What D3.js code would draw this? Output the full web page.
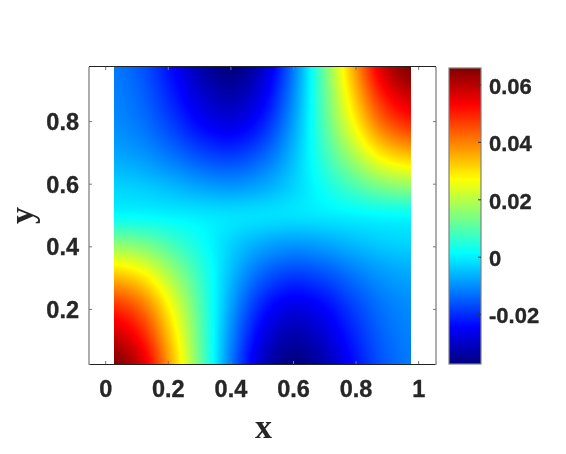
<!DOCTYPE html>
<html>
<head>
<title>Field on the unit square</title>
<script src="https://d3js.org/d3.v7.min.js"></script>
<style>
  html, body { margin: 0; padding: 0; background: #fff; }
  #wrap { position: relative; width: 566px; height: 454px; overflow: hidden; }
  canvas, svg { position: absolute; left: 0; top: 0; }
  .tick-label { font-family: "Liberation Sans", Helvetica, Arial, sans-serif; font-weight: bold; fill: #262626; stroke: #262626; stroke-width: 0.35px; }
  .axis-title { font-family: "Liberation Serif", "Times New Roman", serif; font-weight: bold; fill: #262626; font-size: 34px; }
</style>
</head>
<body>
<div id="wrap">
  <canvas id="heat" width="566" height="454"></canvas>
  <svg id="chart" width="566" height="454"></svg>
</div>
<script>
// values
var xGrid = [0.025, 0.12, 0.215, 0.31, 0.405, 0.5, 0.595, 0.69, 0.785, 0.88, 0.975];
var yGrid = [0.025, 0.12, 0.215, 0.31, 0.405, 0.5, 0.595, 0.69, 0.785, 0.88, 0.975];

// one row per yGrid entry, in units of 0.001
var row0  = [66, 56, 34, 10, -13, -30, -37, -33, -24, -16, -12];
var row1  = [58.2, 49.4, 30.2, 9.1, -11.1, -26.1, -32.4, -29.1, -21.5, -14.6, -11.2];
var row2  = [47.8, 40.6, 25, 7.9, -8.6, -21, -26.4, -24, -18, -12.6, -10];
var row3  = [33.2, 28.3, 17.5, 5.7, -5.8, -14.4, -18.2, -16.7, -12.7, -9.1, -7.3];
var row4  = [16.5, 14, 8.5, 2.5, -3.3, -7.5, -9.3, -8.3, -6, -4, -3];
var row5  = [1.6, 1.2, 0.3, -0.7, -1.5, -1.7, -1.5, -0.7, 0.3, 1.2, 1.6];
var row6  = [-3, -4, -6, -8.3, -9.3, -7.5, -3.3, 2.5, 8.5, 14, 16.5];
var row7  = [-7.3, -9.1, -12.7, -16.7, -18.2, -14.4, -5.8, 5.7, 17.5, 28.3, 33.2];
var row8  = [-10, -12.6, -18, -24, -26.4, -21, -8.6, 7.9, 25, 40.6, 47.8];
var row9  = [-11.2, -14.6, -21.5, -29.1, -32.4, -26.1, -11.1, 9.1, 30.2, 49.4, 58.2];
var row10 = [-12, -16, -24, -33, -37, -30, -13, 10, 34, 56, 66];
var rows = [row0, row1, row2, row3, row4, row5, row6, row7, row8, row9, row10];

var xTicks = [0, 0.2, 0.4, 0.6, 0.8, 1];
var yTicks = [0.2, 0.4, 0.6, 0.8];
var barTicks = [-0.02, 0, 0.02, 0.04, 0.06];
var colorMin = -0.0372;
var colorMax = 0.0659;
var jetStops = ["#000080", "#0000ff", "#00ffff", "#ffff00", "#ff0000", "#800000"];
var jetAt = [0, 0.125, 0.375, 0.625, 0.875, 1];

var box = { left: 89, right: 436, top: 67, bottom: 364 };
var bar = { left: 449, right: 481, top: 68, bottom: 364 };

var x = d3.scaleLinear().domain([0, 1]).range([105.7, 418.7]);
var y = d3.scaleLinear().domain([0, 1]).range([372, 59]);
var c = d3.scaleLinear()
  .domain(jetAt.map(function(t) { return colorMin + t * (colorMax - colorMin); }))
  .range(jetStops)
  .interpolate(d3.interpolateRgb)
  .clamp(true);
var barY = d3.scaleLinear().domain([colorMin, colorMax]).range([bar.bottom, bar.top]);

// smooth shading between the read values
function catmull(p0, p1, p2, p3, t) {
  return 0.5 * (2 * p1 + (p2 - p0) * t + (2 * p0 - 5 * p1 + 4 * p2 - p3) * t * t + (3 * p1 - p0 - 3 * p2 + p3) * t * t * t);
}
function pick(a, i) { return a[Math.max(0, Math.min(a.length - 1, i))]; }
function sample(gx, gy) {
  var ix = Math.max(0, Math.min(xGrid.length - 2, d3.bisectRight(xGrid, gx) - 1));
  var iy = Math.max(0, Math.min(yGrid.length - 2, d3.bisectRight(yGrid, gy) - 1));
  var tx = (gx - xGrid[ix]) / (xGrid[ix + 1] - xGrid[ix]);
  var ty = (gy - yGrid[iy]) / (yGrid[iy + 1] - yGrid[iy]);
  var col = [-1, 0, 1, 2].map(function(d) {
    var r = pick(rows, iy + d);
    return catmull(pick(r, ix - 1), pick(r, ix), pick(r, ix + 1), pick(r, ix + 2), tx);
  });
  return catmull(col[0], col[1], col[2], col[3], ty) / 1000;
}

var ctx = document.getElementById("heat").getContext("2d");
var px0 = Math.round(x(xGrid[0])), px1 = Math.round(x(xGrid[xGrid.length - 1]));
var py0 = Math.round(y(yGrid[yGrid.length - 1])), py1 = Math.round(y(yGrid[0]));
var image = ctx.createImageData(px1 - px0, py1 - py0);
for (var j = 0; j < py1 - py0; j++) {
  for (var i = 0; i < px1 - px0; i++) {
    var col = d3.rgb(c(sample(x.invert(px0 + i + 0.5), y.invert(py0 + j + 0.5))));
    var k = 4 * (j * (px1 - px0) + i);
    image.data[k] = col.r; image.data[k + 1] = col.g; image.data[k + 2] = col.b; image.data[k + 3] = 255;
  }
}
ctx.putImageData(image, px0, py0);

var svg = d3.select("#chart");

// colorbar
var defs = svg.append("defs");
var grad = defs.append("linearGradient").attr("id", "jet")
  .attr("x1", 0).attr("y1", 1).attr("x2", 0).attr("y2", 0);
jetAt.forEach(function(t, i) {
  grad.append("stop").attr("offset", t).attr("stop-color", jetStops[i]);
});
svg.append("rect")
  .attr("x", bar.left).attr("y", bar.top)
  .attr("width", bar.right - bar.left).attr("height", bar.bottom - bar.top)
  .attr("fill", "url(#jet)")
  .attr("stroke", "#808080").attr("stroke-width", 1.2);

var barG = svg.append("g");
barG.selectAll("line").data(barTicks).enter().append("line")
  .attr("x1", bar.right - 3).attr("x2", bar.right)
  .attr("y1", function(d) { return barY(d); })
  .attr("y2", function(d) { return barY(d); })
  .attr("stroke", "#333");
barG.selectAll("text").data(barTicks).enter().append("text")
  .attr("class", "tick-label")
  .attr("x", 489)
  .attr("y", function(d) { return barY(d) + 8.8; })
  .attr("font-size", 22)
  .text(function(d) { return d; });

// main box, ticks
var frame = svg.append("g");
frame.append("line").attr("x1", box.left).attr("x2", box.right).attr("y1", box.top - 0.5).attr("y2", box.top - 0.5).attr("stroke", "#222");
frame.append("line").attr("x1", box.left).attr("x2", box.right).attr("y1", box.bottom + 0.5).attr("y2", box.bottom + 0.5).attr("stroke", "#222");
frame.append("line").attr("x1", box.left).attr("x2", box.left).attr("y1", box.top).attr("y2", box.bottom + 1).attr("stroke", "#999").attr("stroke-width", 1.6);
frame.append("line").attr("x1", box.right).attr("x2", box.right).attr("y1", box.top).attr("y2", box.bottom + 1).attr("stroke", "#999").attr("stroke-width", 1.6);

[box.bottom, box.top].forEach(function(edge, n) {
  frame.selectAll(".xt" + n).data(xTicks).enter().append("line")
    .attr("class", "xt" + n)
    .attr("x1", function(d) { return x(d); }).attr("x2", function(d) { return x(d); })
    .attr("y1", edge).attr("y2", n ? edge + 3 : edge - 3)
    .attr("stroke", "#777");
});
[box.left, box.right].forEach(function(edge, n) {
  frame.selectAll(".yt" + n).data(yTicks).enter().append("line")
    .attr("class", "yt" + n)
    .attr("y1", function(d) { return y(d); }).attr("y2", function(d) { return y(d); })
    .attr("x1", edge).attr("x2", n ? edge - 3 : edge + 3)
    .attr("stroke", "#777");
});

svg.selectAll(".x-label").data(xTicks).enter().append("text")
  .attr("class", "tick-label x-label")
  .attr("x", function(d) { return x(d); })
  .attr("y", 397)
  .attr("text-anchor", "middle")
  .attr("font-size", 23.5)
  .text(function(d) { return d; });

svg.selectAll(".y-label").data(yTicks).enter().append("text")
  .attr("class", "tick-label y-label")
  .attr("x", 79)
  .attr("y", function(d) { return y(d) + 8.5; })
  .attr("text-anchor", "end")
  .attr("font-size", 23.5)
  .text(function(d) { return d; });

svg.append("text").attr("class", "axis-title")
  .attr("x", 263.5).attr("y", 438).attr("text-anchor", "middle").text("x");
svg.append("text").attr("class", "axis-title")
  .attr("transform", "translate(33,215.5) rotate(-90)")
  .attr("text-anchor", "middle").text("y");
</script>
</body>
</html>
